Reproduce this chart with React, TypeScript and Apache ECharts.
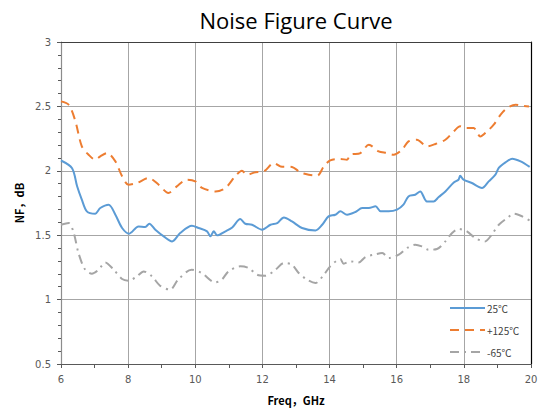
import React, { useEffect, useRef } from "react";
import * as echarts from "echarts";

const TITLE = "Noise Figure Curve";
const SERIES_NAMES = ["25℃", "+125℃", "-65℃"];

const freq25 = [6, 6.33, 6.48, 6.62, 6.77, 7.02, 7.17, 7.42, 7.62, 7.82, 8.03, 8.31, 8.51, 8.63, 8.81, 9.06, 9.31, 9.55, 9.9, 10.1, 10.35, 10.45, 10.55, 10.65, 10.9, 11.1, 11.34, 11.49, 11.69, 11.99, 12.24, 12.44, 12.64, 12.88, 13.18, 13.58, 13.78, 13.97, 14.17, 14.32, 14.52, 14.77, 14.97, 15.17, 15.37, 15.52, 15.76, 16.01, 16.2, 16.35, 16.55, 16.7, 16.9, 17.1, 17.25, 17.45, 17.7, 17.84, 17.89, 17.99, 18.24, 18.54, 18.74, 18.94, 19.04, 19.24, 19.44, 19.69, 19.96];
const nf25 = [2.08, 2.02, 1.88, 1.776, 1.685, 1.667, 1.711, 1.737, 1.659, 1.556, 1.512, 1.568, 1.564, 1.589, 1.543, 1.491, 1.452, 1.517, 1.574, 1.556, 1.53, 1.491, 1.53, 1.499, 1.53, 1.56, 1.626, 1.589, 1.581, 1.543, 1.581, 1.594, 1.638, 1.607, 1.556, 1.537, 1.581, 1.646, 1.659, 1.685, 1.659, 1.68, 1.711, 1.711, 1.724, 1.685, 1.685, 1.698, 1.737, 1.801, 1.814, 1.84, 1.762, 1.762, 1.796, 1.84, 1.91, 1.931, 1.962, 1.931, 1.905, 1.867, 1.918, 1.97, 2.022, 2.065, 2.094, 2.073, 2.03];

const freq125 = [6, 6.23, 6.43, 6.62, 6.82, 7.02, 7.17, 7.37, 7.62, 7.82, 8.01, 8.26, 8.61, 8.91, 9.2, 9.45, 9.75, 10, 10.2, 10.6, 10.9, 11.19, 11.39, 11.54, 11.79, 12.04, 12.34, 12.54, 12.88, 13.13, 13.38, 13.63, 13.83, 14.02, 14.32, 14.52, 14.62, 14.92, 15.17, 15.46, 15.71, 15.91, 16.16, 16.35, 16.6, 16.9, 17.15, 17.45, 17.7, 17.89, 18.04, 18.29, 18.49, 18.69, 18.89, 19.09, 19.29, 19.54, 19.74, 19.94];
const nf125 = [2.539, 2.513, 2.384, 2.19, 2.125, 2.086, 2.112, 2.138, 2.073, 1.957, 1.892, 1.905, 1.944, 1.892, 1.828, 1.879, 1.931, 1.918, 1.867, 1.84, 1.867, 1.957, 2.0, 1.97, 1.988, 1.995, 2.06, 2.034, 2.03, 1.988, 1.97, 1.962, 2.034, 2.081, 2.092, 2.086, 2.125, 2.138, 2.203, 2.151, 2.138, 2.125, 2.164, 2.228, 2.241, 2.19, 2.208, 2.241, 2.306, 2.345, 2.332, 2.332, 2.267, 2.306, 2.358, 2.435, 2.487, 2.513, 2.505, 2.5];

const freq65 = [6, 6.23, 6.38, 6.52, 6.72, 6.92, 7.12, 7.32, 7.57, 7.82, 8.01, 8.26, 8.46, 8.71, 8.95, 9.25, 9.49, 9.89, 10.19, 10.59, 10.79, 10.99, 11.34, 11.59, 11.84, 12.09, 12.39, 12.64, 12.88, 13.08, 13.33, 13.58, 13.83, 14.02, 14.32, 14.42, 14.62, 14.87, 15.07, 15.32, 15.57, 15.76, 16.06, 16.31, 16.55, 16.75, 16.95, 17.2, 17.45, 17.65, 17.84, 18.09, 18.34, 18.63, 18.83, 19.04, 19.29, 19.49, 19.74, 19.96];
const nf65 = [1.581, 1.594, 1.517, 1.362, 1.232, 1.201, 1.232, 1.289, 1.232, 1.16, 1.147, 1.18, 1.219, 1.18, 1.108, 1.077, 1.155, 1.232, 1.207, 1.134, 1.155, 1.219, 1.258, 1.245, 1.193, 1.185, 1.232, 1.284, 1.271, 1.207, 1.155, 1.129, 1.193, 1.258, 1.315, 1.279, 1.297, 1.289, 1.331, 1.349, 1.362, 1.323, 1.349, 1.401, 1.426, 1.413, 1.387, 1.393, 1.452, 1.517, 1.548, 1.53, 1.478, 1.452, 1.504, 1.581, 1.633, 1.667, 1.646, 1.613];

const X_MIN = 6, X_MAX = 20, X_STEP = 2;
const Y_MIN = 0.5, Y_MAX = 3, Y_STEP = 0.5;

const pairs = (xs: number[], ys: number[]) => xs.map((x, i) => [x, ys[i]]);

export default function App() {
  const ref = useRef<HTMLDivElement>(null);
  useEffect(() => {
    const chart = echarts.init(ref.current!, undefined, { renderer: "svg" });
    const labelStyle = { color: "#595959", fontSize: 10, fontFamily: "DejaVu Sans" };
    chart.setOption({
      animation: false,
      backgroundColor: "#ffffff",
      title: {
        text: TITLE,
        left: 291,
        textAlign: "center",
        top: 4,
        textStyle: { fontSize: 22, fontWeight: "normal", color: "#000", fontFamily: "Open Sans" },
      },
      legend: {
        orient: "vertical",
        left: 444,
        top: 298,
        itemWidth: 35,
        itemHeight: 10,
        itemGap: 12,
        itemStyle: { color: "transparent", borderColor: "transparent", borderWidth: 0 },
        textStyle: { fontSize: 10, color: "#404040", fontFamily: "Noto Sans CJK SC", padding: [0, 0, 0, -3] },
        data: SERIES_NAMES,
      },
      grid: { left: 61, right: 13, top: 42, bottom: 53, show: false },
      xAxis: [
        {
          type: "value",
          min: X_MIN,
          max: X_MAX,
          interval: X_STEP,
          name: "Freq，GHz",
          nameLocation: "middle",
          nameGap: 30,
          nameTextStyle: { fontSize: 11, fontWeight: "bold", color: "#000", fontFamily: "Noto Sans CJK SC" },
          axisLine: { lineStyle: { color: "#595959", width: 1.2 } },
          axisTick: { show: true, length: 4, lineStyle: { color: "#595959" } },
          minorTick: { show: true, splitNumber: 2, length: 4, lineStyle: { color: "#595959" } },
          axisLabel: { ...labelStyle, margin: 10 },
          splitLine: { show: true, lineStyle: { color: "#a6a6a6", width: 1 } },
        },
        {
          type: "value",
          position: "top",
          min: X_MIN,
          max: X_MAX,
          interval: X_STEP,
          axisLine: { show: true, lineStyle: { color: "#404040", width: 1.2 } },
          axisTick: { show: false },
          axisLabel: { show: false },
          splitLine: { show: false },
        },
      ],
      yAxis: [
        {
          type: "value",
          min: Y_MIN,
          max: Y_MAX,
          interval: Y_STEP,
          name: "NF，dB",
          nameLocation: "middle",
          nameGap: 36,
          nameTextStyle: { fontSize: 11, fontWeight: "bold", color: "#000", fontFamily: "Noto Sans CJK SC" },
          axisLine: { show: true, lineStyle: { color: "#8c8c8c", width: 1.2 } },
          axisTick: { show: true, length: 4, lineStyle: { color: "#595959" } },
          minorTick: { show: true, splitNumber: 5, length: 3, lineStyle: { color: "#595959" } },
          axisLabel: { ...labelStyle, margin: 10 },
          splitLine: { show: true, lineStyle: { color: "#a6a6a6", width: 1 } },
        },
        {
          type: "value",
          position: "right",
          min: Y_MIN,
          max: Y_MAX,
          interval: Y_STEP,
          axisLine: { show: true, lineStyle: { color: "#000", width: 1.2 } },
          axisTick: { show: false },
          axisLabel: { show: false },
          splitLine: { show: false },
        },
      ],
      series: [
        {
          name: SERIES_NAMES[0],
          type: "line",
          data: pairs(freq25, nf25),
          showSymbol: false,
          symbol: "none",
          smooth: 0.3,
          lineStyle: { color: "#5B9BD5", width: 2 },
          itemStyle: { color: "#5B9BD5" },
        },
        {
          name: SERIES_NAMES[1],
          type: "line",
          data: pairs(freq125, nf125),
          showSymbol: false,
          symbol: "none",
          smooth: 0.3,
          lineStyle: { color: "#ED7D31", width: 2, type: [9, 6] },
          itemStyle: { color: "#ED7D31" },
        },
        {
          name: SERIES_NAMES[2],
          type: "line",
          data: pairs(freq65, nf65),
          showSymbol: false,
          symbol: "none",
          smooth: 0.3,
          lineStyle: { color: "#A5A5A5", width: 2, type: [9, 5, 2, 5] },
          itemStyle: { color: "#A5A5A5" },
        },
      ],
    });
    return () => chart.dispose();
  }, []);
  return <div ref={ref} style={{ position: "absolute", left: 0, top: 0, width: 544, height: 417 }} />;
}
